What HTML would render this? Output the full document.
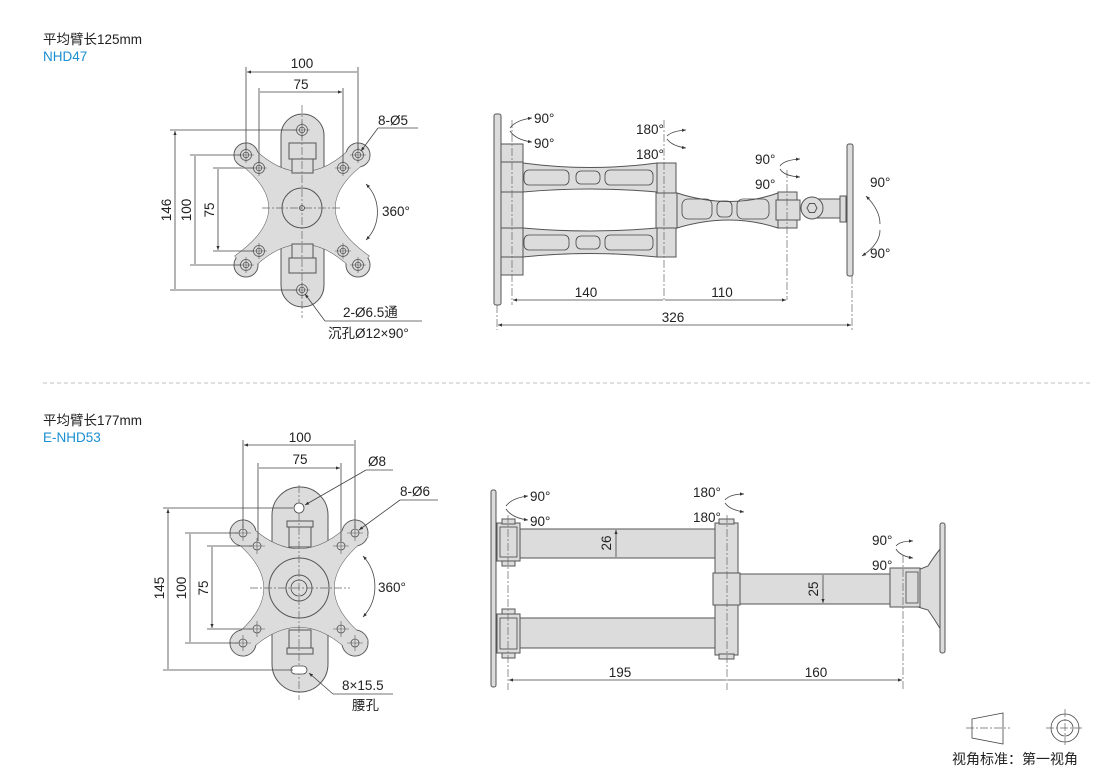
<!DOCTYPE html>
<html><head><meta charset="utf-8"><style>
html,body{margin:0;padding:0;background:#fff;}
svg{display:block;font-family:"Liberation Sans","Noto Sans CJK SC",sans-serif;}
.o{fill:#dcdcdc;stroke:#555;stroke-width:1;}
.f{fill:#dcdcdc;stroke:none;}
.l{stroke:#444;stroke-width:0.8;fill:none;}
.c{stroke:#666;stroke-width:0.7;fill:none;stroke-dasharray:8 2 2 2;}
.t{font-size:13.5px;fill:#222;}
</style></head><body>
<svg width="1110" height="770" viewBox="0 0 1110 770" xmlns="http://www.w3.org/2000/svg">
<defs>
<marker id="a" viewBox="0 0 10 10" refX="10" refY="5" markerWidth="7" markerHeight="5" orient="auto-start-reverse"><path d="M0,1 L10,5 L0,9 z" fill="#333"/></marker>
<g id="h"><circle r="5.5" fill="#dcdcdc" stroke="#555" stroke-width="0.8"/><circle r="2.8" fill="none" stroke="#555" stroke-width="0.8"/><path d="M-8,0H8M0,-8V8" stroke="#555" stroke-width="0.6"/></g>
<g id="h2"><circle r="4" fill="none" stroke="#555" stroke-width="0.8"/><path d="M-8,0H8M0,-8V8" stroke="#555" stroke-width="0.6"/></g>
</defs>

<text x="43" y="44" class="t">平均臂长125mm</text>
<text x="43" y="61" class="t" style="fill:#1a8fd0">NHD47</text>

<!-- Plate 1 -->
<rect x="281" y="114" width="43" height="193" rx="21.5" class="o"/>
<g>
<path d="M248,143 Q302,201 356,143 L369,160 Q301,208 369,256 L356,273 Q302,215 248,273 L235,256 Q303,208 235,160 Z" class="o"/>
<circle cx="246" cy="155" r="12" class="o"/><circle cx="358" cy="155" r="12" class="o"/><circle cx="246" cy="265" r="12" class="o"/><circle cx="358" cy="265" r="12" class="o"/>
<path d="M248,143 Q302,201 356,143 L369,160 Q301,208 369,256 L356,273 Q302,215 248,273 L235,256 Q303,208 235,160 Z" class="f"/>
<circle cx="246" cy="155" r="11.5" class="f"/><circle cx="358" cy="155" r="11.5" class="f"/><circle cx="246" cy="265" r="11.5" class="f"/><circle cx="358" cy="265" r="11.5" class="f"/>
</g>
<rect x="289" y="143" width="27" height="16" class="o"/><rect x="292" y="159" width="21" height="14" class="o"/>
<rect x="289" y="258" width="27" height="15" class="o"/><rect x="292" y="244" width="21" height="14" class="o"/>
<circle cx="302" cy="208" r="20" class="o"/>
<path d="M302,105V318M262,208H342" class="c"/>
<circle cx="302" cy="208" r="2.5" class="l"/>
<use href="#h" x="302" y="130"/><use href="#h" x="302" y="290"/>
<use href="#h" x="246" y="155"/><use href="#h" x="358" y="155"/><use href="#h" x="246" y="265"/><use href="#h" x="358" y="265"/>
<use href="#h" x="259" y="168"/><use href="#h" x="343" y="168"/><use href="#h" x="259" y="251"/><use href="#h" x="343" y="251"/>
<path d="M246,67V150M358,67V150M259,88V163M343,88V163" class="l"/>
<path d="M247,72H357M260,92H342" class="l" marker-start="url(#a)" marker-end="url(#a)"/>
<text x="302" y="68" text-anchor="middle" class="t">100</text>
<text x="301" y="89" text-anchor="middle" class="t">75</text>
<path d="M170,130H296M190,155H241M213,168H254M213,251H254M190,265H241M170,290H296" class="l"/>
<path d="M175,131V289M195,156V264M218,169V250" class="l" marker-start="url(#a)" marker-end="url(#a)"/>
<text transform="translate(171,210) rotate(-90)" text-anchor="middle" class="t">146</text>
<text transform="translate(191,210) rotate(-90)" text-anchor="middle" class="t">100</text>
<text transform="translate(214,210) rotate(-90)" text-anchor="middle" class="t">75</text>
<path d="M378,128L361,151" class="l" marker-end="url(#a)"/><path d="M378,128H418" class="l"/>
<text x="378" y="125" class="t">8-Ø5</text>
<path d="M366,184 A40,40 0 0 1 366,240" class="l" marker-start="url(#a)" marker-end="url(#a)"/>
<text x="382" y="216" class="t">360°</text>
<path d="M325,321L305,294" class="l" marker-end="url(#a)"/><path d="M325,321H422" class="l"/>
<text x="343" y="317" class="t">2-Ø6.5通</text>
<text x="328" y="338" class="t">沉孔Ø12×90°</text>

<!-- Side 1 -->
<rect x="494" y="114" width="7" height="191" rx="2" class="o"/>
<rect x="501" y="144" width="22" height="18" class="o"/>
<rect x="501" y="162" width="22" height="30" class="o"/>
<rect x="501" y="192" width="22" height="36" class="o"/>
<rect x="501" y="228" width="22" height="29" class="o"/>
<rect x="501" y="257" width="22" height="18" class="o"/>
<path d="M523,163 Q590,172 657,163 L657,192 Q590,186 523,192Z" class="o"/>
<path d="M523,228 Q590,234 657,228 L657,257 Q590,250 523,257Z" class="o"/>
<g class="l"><rect x="524" y="170" width="45" height="15" rx="5"/><rect x="576" y="171" width="24" height="13" rx="5"/><rect x="605" y="170" width="48" height="15" rx="5"/>
<rect x="524" y="235" width="45" height="15" rx="5"/><rect x="576" y="236" width="24" height="13" rx="5"/><rect x="605" y="235" width="48" height="15" rx="5"/></g>
<rect x="657" y="163" width="19" height="30" class="o"/>
<rect x="656" y="193" width="21" height="35" class="o"/>
<rect x="657" y="228" width="19" height="29" class="o"/>
<path d="M677,193 Q730,210 778,193 L778,228 Q730,212 677,228Z" class="o"/>
<g class="l"><rect x="682" y="199" width="30" height="20" rx="6"/><rect x="717" y="201" width="15" height="16" rx="5"/><rect x="737" y="199" width="32" height="20" rx="6"/></g>
<rect x="778" y="192" width="19" height="36" class="o"/><rect x="776" y="200" width="24" height="20" class="o"/>
<rect x="812" y="199" width="30" height="19" class="o"/>
<circle cx="812" cy="208" r="11" class="o"/>
<polygon points="807,208 809.5,203.5 814.5,203.5 817,208 814.5,212.5 809.5,212.5" class="o"/>
<rect x="840" y="196" width="6" height="26" class="o"/>
<rect x="847" y="144" width="6" height="132" rx="2" class="o"/>
<path d="M512,120V305M664,120V300M787,170V300M852,276V330M497,305V330" class="c"/>
<path d="M513,300H663M665,300H786" class="l" marker-start="url(#a)" marker-end="url(#a)"/>
<path d="M498,325H851" class="l" marker-start="url(#a)" marker-end="url(#a)"/>
<text x="586" y="297" text-anchor="middle" class="t">140</text>
<text x="722" y="297" text-anchor="middle" class="t">110</text>
<text x="673" y="322" text-anchor="middle" class="t">326</text>
<text x="534" y="123" class="t">90°</text><text x="534" y="148" class="t">90°</text>
<path d="M510,128 Q516,120 532,118" class="l" marker-end="url(#a)"/><path d="M510,131 Q516,140 532,142" class="l" marker-end="url(#a)"/>
<text x="636" y="134" class="t">180°</text><text x="636" y="159" class="t">180°</text>
<path d="M667,136 Q672,131 686,130" class="l" marker-end="url(#a)"/><path d="M667,139 Q672,146 686,148" class="l" marker-end="url(#a)"/>
<text x="755" y="164" class="t">90°</text><text x="755" y="189" class="t">90°</text>
<path d="M780,166 Q784,160 800,159" class="l" marker-end="url(#a)"/><path d="M780,169 Q784,176 800,177" class="l" marker-end="url(#a)"/>
<text x="870" y="187" class="t">90°</text><text x="870" y="258" class="t">90°</text>
<path d="M866,196 Q880,210 880,224" class="l" marker-start="url(#a)"/>
<path d="M880,230 Q880,244 862,256" class="l" marker-end="url(#a)"/>

<path d="M43,383H1090" stroke="#aaa" stroke-width="0.8" stroke-dasharray="4 3"/>

<text x="43" y="425" class="t">平均臂长177mm</text>
<text x="43" y="442" class="t" style="fill:#1a8fd0">E-NHD53</text>

<!-- Plate 2 -->
<rect x="272" y="487" width="56" height="205" rx="28" class="o"/>
<g>
<path d="M244,520 Q299,578 354,520 L368,537 Q300,588 368,640 L354,656 Q299,598 244,656 L230,640 Q298,588 230,537 Z" class="o"/>
<circle cx="243" cy="533" r="13" class="o"/><circle cx="355" cy="533" r="13" class="o"/><circle cx="243" cy="643" r="13" class="o"/><circle cx="355" cy="643" r="13" class="o"/>
<path d="M244,520 Q299,578 354,520 L368,537 Q300,588 368,640 L354,656 Q299,598 244,656 L230,640 Q298,588 230,537 Z" class="f"/>
<circle cx="243" cy="533" r="12.5" class="f"/><circle cx="355" cy="533" r="12.5" class="f"/><circle cx="243" cy="643" r="12.5" class="f"/><circle cx="355" cy="643" r="12.5" class="f"/>
</g>
<rect x="289" y="523" width="22" height="24" class="o"/><rect x="287" y="521" width="26" height="6" class="o"/>
<rect x="289" y="630" width="22" height="22" class="o"/><rect x="287" y="648" width="26" height="6" class="o"/>
<circle cx="299" cy="588" r="30" class="o"/>
<circle cx="299" cy="588" r="13" class="o"/><circle cx="299" cy="588" r="8" class="l"/>
<path d="M299,485V700M250,588H350" class="c"/>
<circle cx="299" cy="508" r="5" class="l" style="fill:#fff"/>
<rect x="291" y="666" width="16" height="8" rx="4" class="l" style="fill:#fff"/>
<use href="#h2" x="243" y="533"/><use href="#h2" x="355" y="533"/><use href="#h2" x="243" y="643"/><use href="#h2" x="355" y="643"/>
<use href="#h2" x="257" y="546"/><use href="#h2" x="341" y="546"/><use href="#h2" x="257" y="629"/><use href="#h2" x="341" y="629"/>
<path d="M243,440V528M355,440V528M258,463V541M341,463V541" class="l"/>
<path d="M244,445H354M259,468H340" class="l" marker-start="url(#a)" marker-end="url(#a)"/>
<text x="300" y="442" text-anchor="middle" class="t">100</text>
<text x="300" y="464" text-anchor="middle" class="t">75</text>
<path d="M163,508H293M185,533H238M207,546H252M207,629H252M185,643H238M163,670H293" class="l"/>
<path d="M168,509V669M190,534V642M212,547V628" class="l" marker-start="url(#a)" marker-end="url(#a)"/>
<text transform="translate(164,588) rotate(-90)" text-anchor="middle" class="t">145</text>
<text transform="translate(186,588) rotate(-90)" text-anchor="middle" class="t">100</text>
<text transform="translate(208,588) rotate(-90)" text-anchor="middle" class="t">75</text>
<path d="M366,470L305,505" class="l" marker-end="url(#a)"/><path d="M366,470H393" class="l"/>
<text x="368" y="466" class="t">Ø8</text>
<path d="M400,500L359,530" class="l" marker-end="url(#a)"/><path d="M400,500H438" class="l"/>
<text x="400" y="496" class="t">8-Ø6</text>
<path d="M363,556 A45,45 0 0 1 363,617" class="l" marker-start="url(#a)" marker-end="url(#a)"/>
<text x="378" y="592" class="t">360°</text>
<path d="M333,694L309,673" class="l" marker-end="url(#a)"/><path d="M333,694H393" class="l"/>
<text x="342" y="690" class="t">8×15.5</text>
<text x="352" y="710" class="t">腰孔</text>

<!-- Side 2 -->
<rect x="491" y="490" width="5" height="197" rx="2" class="o"/>
<rect x="497" y="523" width="23" height="38" class="o"/><rect x="500" y="527" width="17" height="30" class="l"/>
<rect x="502" y="519" width="13" height="5" class="o"/><rect x="502" y="561" width="13" height="5" class="o"/>
<rect x="497" y="614" width="23" height="39" class="o"/><rect x="500" y="618" width="17" height="31" class="l"/>
<rect x="502" y="609" width="13" height="5" class="o"/><rect x="502" y="653" width="13" height="5" class="o"/>
<rect x="520" y="529" width="195" height="29" class="o"/>
<rect x="520" y="618" width="195" height="30" class="o"/>
<rect x="715" y="523" width="23" height="50" class="o"/>
<rect x="713" y="573" width="27" height="32" class="o"/>
<rect x="715" y="605" width="23" height="50" class="o"/>
<rect x="719" y="519" width="15" height="5" class="o"/><rect x="719" y="654" width="15" height="5" class="o"/>
<rect x="740" y="574" width="150" height="30" class="o"/>
<path d="M918,570 L928,566 Q935,555 941,548 L941,630 Q935,620 928,610 L918,607Z" class="o"/>
<rect x="890" y="568" width="30" height="39" class="o"/><rect x="906" y="572" width="12" height="31" class="l"/>
<rect x="940" y="523" width="5" height="130" rx="2" class="o"/>
<path d="M508,515V690M727,515V690M903,555V690" class="c"/>
<path d="M509,680H726M728,680H902" class="l" marker-start="url(#a)" marker-end="url(#a)"/>
<text x="620" y="677" text-anchor="middle" class="t">195</text>
<text x="816" y="677" text-anchor="middle" class="t">160</text>
<path d="M616,530V557M823,575V603" class="l" marker-start="url(#a)" marker-end="url(#a)"/>
<text transform="translate(611,543) rotate(-90)" text-anchor="middle" class="t">26</text>
<text transform="translate(818,589) rotate(-90)" text-anchor="middle" class="t">25</text>
<text x="530" y="501" class="t">90°</text><text x="530" y="526" class="t">90°</text>
<path d="M506,506 Q512,498 528,496" class="l" marker-end="url(#a)"/><path d="M506,509 Q512,518 528,520" class="l" marker-end="url(#a)"/>
<text x="693" y="497" class="t">180°</text><text x="693" y="522" class="t">180°</text>
<path d="M725,500 Q730,494 744,494" class="l" marker-end="url(#a)"/><path d="M725,503 Q730,510 744,512" class="l" marker-end="url(#a)"/>
<text x="872" y="545" class="t">90°</text><text x="872" y="570" class="t">90°</text>
<path d="M896,546 Q900,541 913,541" class="l" marker-end="url(#a)"/><path d="M896,549 Q900,556 913,558" class="l" marker-end="url(#a)"/>

<!-- legend -->
<path d="M972,719 L1003,713 L1003,744 L972,738Z" class="l" stroke="#333"/>
<path d="M966,728H1010" class="c"/>
<circle cx="1065" cy="728" r="14" class="l"/><circle cx="1065" cy="728" r="8" class="l"/>
<path d="M1046,728H1084M1065,709V747" class="c"/>
<text x="952" y="764" class="t" style="font-size:14px">视角标准：第一视角</text>
</svg>
</body></html>
